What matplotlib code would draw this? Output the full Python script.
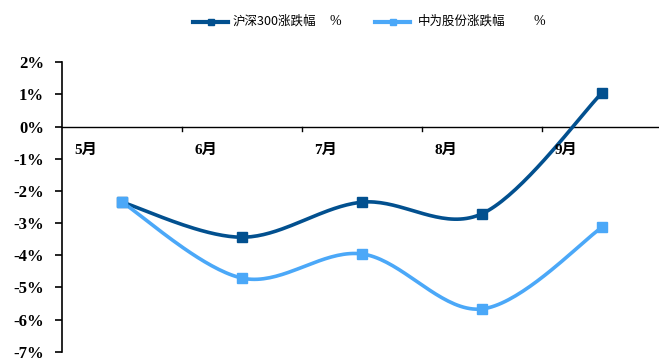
import numpy as np
import matplotlib
matplotlib.use("Agg")
import matplotlib.pyplot as plt
from matplotlib.lines import Line2D
from matplotlib.transforms import ScaledTranslation

months = ["5月", "6月", "7月", "8月", "9月"]
hs300 = [-2.35, -3.44, -2.35, -2.71, 1.05]
stock = [-2.35, -4.71, -3.96, -5.67, -3.13]
series_names = ["沪深300涨跌幅", "中为股份涨跌幅"]
yticks = [2, 1, 0, -1, -2, -3, -4, -5, -6, -7]

DARK = "#02508F"
LIGHT = "#4BA8F8"

plt.rcParams["font.family"] = ["Liberation Serif", "Noto Sans CJK SC", "DejaVu Sans"]
W, H = 659, 363


def smooth(xs, ys, n=40):
    """Cubic Bezier smoothing through every point (Catmull-Rom style)."""
    pts = np.column_stack([xs, ys]).astype(float)
    ext = np.vstack([pts[0], pts, pts[-1]])
    out = []
    t = np.linspace(0, 1, n)[:, None]
    for i in range(1, len(ext) - 2):
        p0, p1, p2, p3 = ext[i - 1], ext[i], ext[i + 1], ext[i + 2]
        c1 = p1 + (p2 - p0) / 6
        c2 = p2 - (p3 - p1) / 6
        seg = ((1 - t) ** 3) * p1 + 3 * ((1 - t) ** 2) * t * c1 + 3 * (1 - t) * t ** 2 * c2 + t ** 3 * p2
        out.append(seg if i == 1 else seg[1:])
    seg = np.vstack(out)
    return seg[:, 0], seg[:, 1]


fig = plt.figure(figsize=(W / 100, H / 100), dpi=100)
ax = fig.add_axes([62 / W, 1 - 351.7 / H, 1 - 62 / W, (351.7 - 62.3) / H])

x = np.arange(1, len(months) + 1)
for vals, col in [(hs300, DARK), (stock, LIGHT)]:
    sx, sy = smooth(x, vals)
    ax.plot(sx, sy, color=col, lw=2.6, solid_capstyle="round", zorder=3, clip_on=False)
    ax.plot(x, vals, ls="none", marker="s", ms=6.5, color=col, zorder=4, clip_on=False)

ax.set_xlim(0.5, 5.475)
ax.set_ylim(-7, 2)

for s in ["top", "right", "bottom"]:
    ax.spines[s].set_visible(False)
ax.spines["left"].set_linewidth(1.2)
ax.axhline(0, color="black", lw=1.0, zorder=2)

ax.set_yticks(yticks)
ax.set_yticklabels([f"{v}%" for v in yticks], fontsize=12, fontweight="bold")
ax.tick_params(axis="y", direction="out", length=5, width=1.2, pad=8)

# category axis sits on the zero line: boundary ticks and month labels
ax.set_xticks([])
for b in np.arange(1.5, 5.5, 1):
    ax.plot([b, b], [0, -0.15], color="black", lw=1.0, clip_on=False)
lab_off = ax.transData + ScaledTranslation(-0.36, -0.235, fig.dpi_scale_trans)
for xi, m in zip(x, months):
    ax.text(xi, 0, m, transform=lab_off, ha="center", va="center",
            fontsize=11, fontweight="bold")

# legend row across the top
ly = 1 - 21.5 / H
for (x0, x1, tx, px), col, name in zip(
        [(193, 228, 233, 330), (375, 410, 418, 533)], [DARK, LIGHT], series_names):
    fig.add_artist(Line2D([x0 / W, x1 / W], [ly, ly], color=col, lw=3,
                          transform=fig.transFigure))
    fig.add_artist(Line2D([(x0 + x1) / 2 / W], [ly], color=col, marker="s", ms=5,
                          transform=fig.transFigure))
    fig.text(tx / W, ly, name, ha="left", va="center", fontsize=9,
             family=["Noto Sans CJK SC", "DejaVu Sans"])
    fig.text(px / W, ly, "%", ha="left", va="center", fontsize=10,
             family=["Liberation Serif", "DejaVu Sans"])

fig.savefig("out.png", dpi=100)
